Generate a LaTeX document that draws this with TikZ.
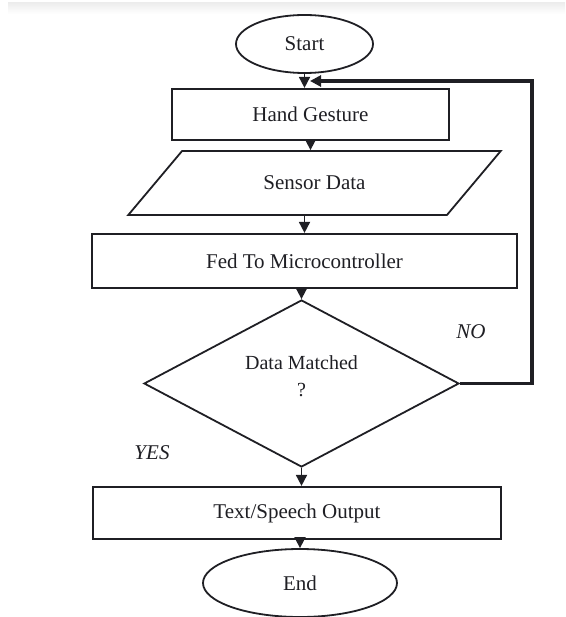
\documentclass[tikz,border=0pt]{standalone}
\usepackage{fontspec}
\setmainfont{Liberation Serif}
\definecolor{myink}{rgb}{0.12,0.12,0.14}
\usetikzlibrary{positioning, arrows.meta, shapes.geometric}
\tikzset{
    terminal/.style={
           ellipse,
           draw=myink, line width=1.8pt,
           inner sep=0pt,
           text centered,
           },
    process/.style={
           rectangle,
           draw=myink, line width=2.2pt,
           inner sep=0pt,
           text centered,
           },
    io/.style={
           trapezium,
           trapezium left angle=34.25, trapezium right angle=145.75,
           trapezium stretches=true,
           draw=myink, line width=1.8pt,
           inner sep=0pt,
           text centered,
           },
    decision/.style={
           diamond,
           draw=myink, line width=1.8pt,
           inner sep=0pt,
           },
    flow/.style={-{Triangle[width=11pt,length=11pt]}, draw=myink, line width=1.8pt},
    loop/.style={-{Triangle[width=11pt,length=11pt]}, draw=myink, line width=3.2pt},
    answer/.style={font=\fontsize{21}{25}\selectfont\itshape},
}
\newcommand{\TxtStart}{Start}
\newcommand{\TxtHand}{Hand Gesture}
\newcommand{\TxtSensor}{Sensor Data}
\newcommand{\TxtFed}{Fed To Microcontroller}
\newcommand{\TxtMatch}{Data Matched\\?}
\newcommand{\TxtOut}{Text/Speech Output}
\newcommand{\TxtEnd}{End}

\begin{document}
\begin{tikzpicture}[x=1pt, y=-1pt, font=\fontsize{21}{25}\selectfont, text=myink]
  \useasboundingbox (0,0) rectangle (565,617);
  \shade[top color=gray!14, bottom color=white] (8,3) rectangle (565,14);
  \node[terminal, minimum width=137pt, minimum height=58pt]   (S) at (304.5, 44)  {\TxtStart};
  \node[process,  minimum width=277pt, minimum height=51pt]   (H) at (310.5, 114.5) {\TxtHand};
  \node[io,       minimum width=373pt, minimum height=64pt]   (P) at (314.5, 183) {\TxtSensor};
  \node[process,  minimum width=425pt, minimum height=54pt]   (F) at (304.5, 261) {\TxtFed};
  \node[decision, minimum width=315pt, minimum height=167pt,
        label={[align=center, font=\fontsize{20}{27}\selectfont, yshift=7.5pt]center:\TxtMatch}]
                                                              (D) at (301.5, 383.5) {};
  \node[process,  minimum width=408pt, minimum height=52pt]   (T) at (297, 513)   {\TxtOut};
  \node[terminal, minimum width=194pt, minimum height=68pt]   (E) at (300, 583)   {\TxtEnd};
  \node[answer] (no)  at (471, 332) {NO};
  \node[answer] (yes) at (152, 453) {YES};
  \coordinate (L) at (532, 81);
  \coordinate (J) at (310, 81);
  \draw[flow] (S.south) -- (S.south |- H.north);
  \draw[flow] (H.south) -- (H.south |- P.north);
  \draw[flow] (P.south -| F.north) -- (F.north);
  \draw[flow] (F.south -| D.north) -- (D.north);
  \draw[flow] (D.south) -- (D.south |- T.north);
  \draw[flow] (T.south -| E.north) -- (E.north);
  \draw[loop] (D.east) -| (L) -- (J);
\end{tikzpicture}
\end{document}
